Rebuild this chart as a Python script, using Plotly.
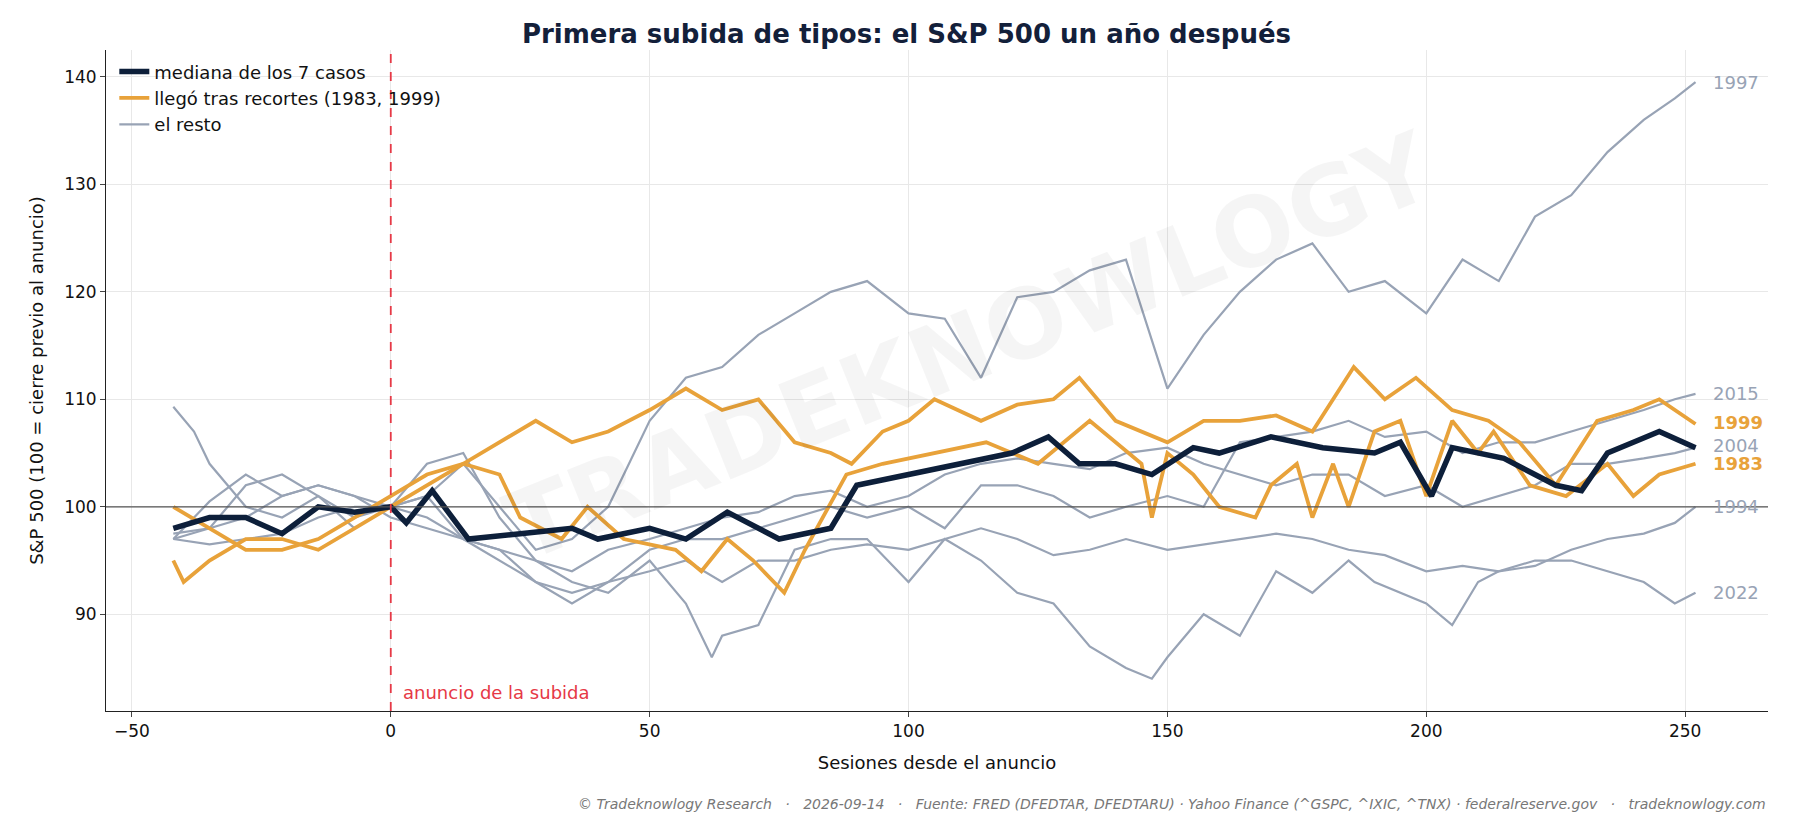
import plotly.graph_objects as go

x_std = [-42,-35,-28,-21,-14,-7,0,7,14,21,28,35,42,50,57,64,71,78,85,92,100,107,114,121,128,135,142,150,157,164,171,178,185,192,200,207,214,221,228,235,242,248,252]
y1997 = [97,100.5,103,101,102,101,100,101,104,100,96,97,100,108,112,113,116,118,120,121,118,117.5,112,119.5,120,122,123,111,116,120,123,124.5,120,121,118,123,121,127,129,133,136,138,139.5]
y2004 = [97,96.5,97,97.5,99,100,100,99,97,96,95,94,96,97,98,99,99.5,101,101.5,100,101,103,104,104.5,104,103.5,105,105.5,104,103,102,103,103,101,102,100,101,102,104,104,104.5,105,105.5]
y2015 = [97.5,98,102,103,101,98,100,101,97,95,93,92,93,96,97,97,98,99,100,99,100,98,102,102,101,99,100,101,100,106,106.5,107,108,106.5,107,105,106,106,107,108,109,110,110.5]
y1994 = [97,98,99,101,102,101,99,98,97,96,93,91,93,94,95,93,95,95,96,96.5,96,97,98,97,95.5,96,97,96,96.5,97,97.5,97,96,95.5,94,94.5,94,94.5,96,97,97.5,98.5,100]
x2022 = [-42,-38,-35,-28,-21,-14,-7,0,7,14,21,28,35,42,50,57,62,64,71,78,85,92,100,107,114,121,128,135,142,147,150,157,164,171,178,185,190,200,205,210,214,221,228,235,242,248,252]
y2022 = [109.3,107,104,100,99,101,99,100,104,105,99,95,93,92,95,91,86,88,89,96,97,97,93,97,95,92,91,87,85,84,86,90,88,94,92,95,93,91,89,93,94,95,95,94,93,91,92]
x1999 = [-42,-35,-28,-21,-14,-7,0,7,14,21,28,35,42,50,57,64,71,78,85,89,95,100,105,114,121,128,133,140,150,157,164,171,178,186,192,198,205,212,218,225,233,240,245,252]
y1999 = [100,98,96,96,97,99,101,103,104,106,108,106,107,109,111,109,110,106,105,104,107,108,110,108,109.5,110,112,108,106,108,108,108.5,107,113,110,112,109,108,106,102,108,109,110,107.7]
x1983 = [-42,-40,-35,-28,-21,-14,-7,0,7,14,21,25,33,38,45,55,60,65,70,76,80,88,95,105,115,125,135,145,147,150,155,160,167,170,175,178,182,185,190,195,200,205,210,213,220,227,235,240,245,252]
y1983 = [95,93,95,97,97,96,98,100,102,104,103,99,97,100,97,96,94,97,95,92,96,103,104,105,106,104,108,104,99,105,103,100,99,102,104,99,104,100,107,108,101,108,105,107,102,101,104,101,103,104]
x_med = [-42,-35,-28,-21,-14,-7,0,3,8,15,25,35,40,50,57,65,75,85,90,100,110,120,127,133,140,147,155,160,170,180,190,195,201,205,215,225,230,235,240,245,252]
y_med = [98,99,99,97.5,100,99.5,100,98.5,101.5,97,97.5,98,97,98,97,99.5,97,98,102,103,104,105,106.5,104,104,103,105.5,105,106.5,105.5,105,106,101,105.5,104.5,102,101.5,105,106,107,105.5]

GRAY = "#98a3b5"; ORANGE = "#e8a23a"; NAVY = "#0d1f3a"
fig = go.Figure()
first = True
for xs, ys in [(x_std, y1997), (x_std, y2004), (x_std, y2015), (x_std, y1994), (x2022, y2022)]:
    fig.add_trace(go.Scatter(x=xs, y=ys, mode="lines", line=dict(color=GRAY, width=2.2),
                             name="el resto", showlegend=first, legendrank=3))
    first = False
fig.add_trace(go.Scatter(x=x1999, y=y1999, mode="lines", line=dict(color=ORANGE, width=3.8),
                         name="llegó tras recortes (1983, 1999)", legendrank=2))
fig.add_trace(go.Scatter(x=x1983, y=y1983, mode="lines", line=dict(color=ORANGE, width=3.8),
                         showlegend=False))
fig.add_trace(go.Scatter(x=x_med, y=y_med, mode="lines", line=dict(color=NAVY, width=5.5),
                         name="mediana de los 7 casos", legendrank=1))

fig.add_hline(y=100, line=dict(color="#555", width=1.3))
fig.add_vline(x=0, line=dict(color="#e63946", width=1.8, dash="dash"))

labels = [("1997", 139.5, GRAY, False), ("2015", 110.5, GRAY, False), ("1999", 107.8, ORANGE, True),
          ("2004", 105.7, GRAY, False), ("1983", 104.0, ORANGE, True), ("1994", 100.0, GRAY, False),
          ("2022", 92.0, GRAY, False)]
for t, yv, c, b in labels:
    fig.add_annotation(x=255, y=yv, text=f"<b>{t}</b>" if b else t, showarrow=False, xanchor="left",
                       font=dict(color=c, size=18))
fig.add_annotation(x=2, y=81.6, text="anuncio de la subida", showarrow=False, xanchor="left", yanchor="bottom",
                   font=dict(color="#e63946", size=18))
fig.add_annotation(x=0.52, y=0.55, xref="paper", yref="paper", text="<b>TRADEKNOWLOGY</b>", showarrow=False,
                   textangle=-22, font=dict(size=96, color="rgba(0,0,0,0.04)", family="DejaVu Sans"))
fig.add_annotation(x=1.0, y=-0.125, xref="paper", yref="paper", xanchor="right", yanchor="top", showarrow=False,
                   text="<i>© Tradeknowlogy Research   ·   2026-09-14   ·   Fuente: FRED (DFEDTAR, DFEDTARU) · Yahoo Finance (^GSPC, ^IXIC, ^TNX) · federalreserve.gov   ·   tradeknowlogy.com</i>",
                   font=dict(size=14, color="#777"))

fig.update_layout(
    width=1797, height=840, plot_bgcolor="white", paper_bgcolor="white",
    font=dict(family="DejaVu Sans", size=17, color="#111"),
    title=dict(text="<b>Primera subida de tipos: el S&P 500 un año después</b>", x=0.5, y=0.98,
               font=dict(size=26, color="#13203a")),
    margin=dict(l=98, r=37, t=42, b=137),
    legend=dict(x=0.005, y=0.995, bgcolor="rgba(255,255,255,0)", font=dict(size=18)),
    xaxis=dict(range=[-55, 266], tickvals=[-50, 0, 50, 100, 150, 200, 250], showgrid=True,
               gridcolor="#e8e8e8", zeroline=False, showline=True, linecolor="#222", ticks="outside",
               title=dict(text="Sesiones desde el anuncio", font=dict(size=18))),
    yaxis=dict(range=[81, 142.5], tickvals=[90, 100, 110, 120, 130, 140], showgrid=True,
               gridcolor="#e8e8e8", zeroline=False, showline=True, linecolor="#222", ticks="outside",
               title=dict(text="S&P 500 (100 = cierre previo al anuncio)", font=dict(size=18))),
)
fig.write_html("out.html")
